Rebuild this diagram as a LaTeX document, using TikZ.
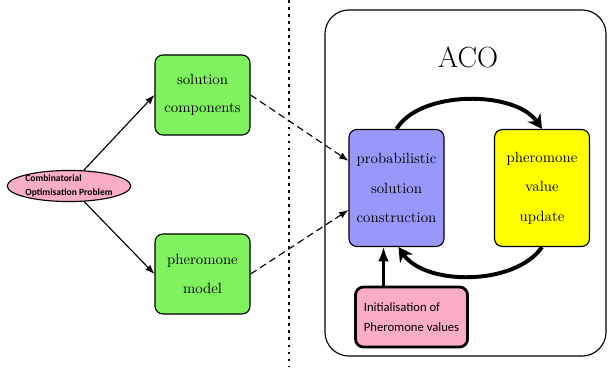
\documentclass[tikz,border=0pt]{standalone}
\usepackage{fontspec}
\newfontfamily\calfont{Carlito}
\usetikzlibrary{arrows.meta,calc,shapes}
\definecolor{compgreen}{RGB}{128,242,96}
\definecolor{constblue}{RGB}{152,152,250}
\definecolor{updyellow}{RGB}{255,255,0}
\definecolor{initpink}{RGB}{250,172,200}
\tikzset{>=Latex}
\tikzstyle{greenbox}=[rectangle,draw=black,fill=compgreen,thick,minimum width=2.375cm,minimum height=2cm,rounded corners=0.2cm,align=center,font=\fontsize{10.5}{20}\selectfont]
\tikzstyle{acobox}=[rectangle,draw=black,thick,minimum width=2.375cm,minimum height=2.925cm,rounded corners=0.2cm,align=center,font=\fontsize{10.5}{21}\selectfont]
\tikzstyle{problem}=[ellipse,draw=black,fill=initpink,thick,minimum width=3.05cm,minimum height=0.72cm,inner sep=0pt,align=left,font=\calfont\bfseries\fontsize{6.8}{9.8}\selectfont]
\tikzstyle{initbox}=[rectangle,draw=black,fill=initpink,line width=2pt,minimum width=2.8cm,minimum height=1.5cm,rounded corners=0.2cm,align=left,font=\calfont\fontsize{9}{14}\selectfont]
\tikzstyle{cycle}=[line width=2.8pt,-{Stealth[length=10pt,width=11pt]}]

\begin{document}
\begin{tikzpicture}[x=0.025cm,y=-0.025cm]
	\useasboundingbox (0,0) rectangle (609,367);

	% left half
	\node[problem] (cop) at (69,186) {Combinatorial\\Optimisation Problem};
	\node[greenbox] (sol) at (202.5,95) {solution\\components};
	\node[greenbox] (pm) at (202.5,274) {pheromone\\model};
	\draw[thick,->] (cop) -- (sol.west);
	\draw[thick,->] (cop) -- (pm.west);

	\coordinate (dtop) at (289,0);
	\coordinate (dbot) at (289,367);
	\draw[thick,dash pattern=on 2pt off 3pt] (dtop) -- (dbot);

	% ACO frame
	\node[draw=black,thick,rectangle,rounded corners=0.6cm,minimum width=7.025cm,minimum height=8.65cm] (aco) at (465.5,183) {};
	\node[font=\huge] (acot) at (468,57) {ACO};

	\node[acobox,fill=constblue] (prob) at (396.5,188) {probabilistic\\solution\\construction};
	\node[acobox,fill=updyellow] (upd) at (542,188) {pheromone\\value\\update};
	\node[initbox] (init) at (411.5,317) {Initialisation of\\Pheromone values};

	\draw[thick,dash pattern=on 5pt off 3pt,->] (sol.east) -- ([yshift=0.68cm]prob.west);
	\draw[thick,dash pattern=on 5pt off 3pt,->] (pm.east) -- ([yshift=-0.55cm]prob.west);

	\draw[cycle] (prob.north) .. controls (420,90) and (515,90) .. (upd.north);
	\draw[cycle] (upd.south) .. controls (515,286) and (425,286) .. ([xshift=0.05cm]prob.south);
	\draw[line width=1.6pt,->] ([xshift=-0.7cm]init.north) -- ([xshift=-0.7cm]init.north |- prob.south);
\end{tikzpicture}
\end{document}
